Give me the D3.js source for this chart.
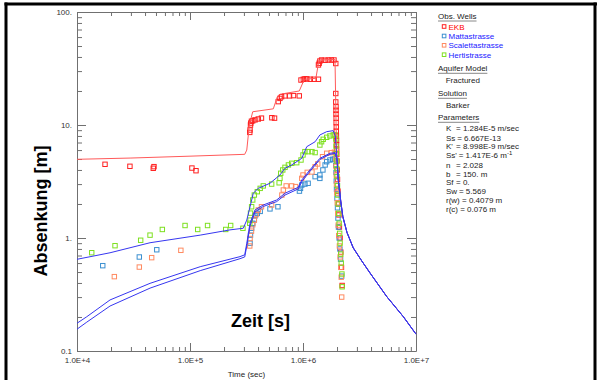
<!DOCTYPE html>
<html><head><meta charset="utf-8">
<script src="https://cdn.jsdelivr.net/npm/d3@7"></script>
<style>
html,body{margin:0;padding:0;background:#fff;}
svg{display:block;font-family:"Liberation Sans",Arial,sans-serif;}
</style></head><body>
<svg id="c" width="603" height="380"></svg>
<script>
// ---------- data ----------
const xTickValues = [1e4, 1e5, 1e6, 1e7];
const xTickLabels = ["1.0E+4", "1.0E+5", "1.0E+6", "1.0E+7"];
const yTickValues = [0.1, 1, 10, 100];
const yTickLabels = ["0.1", "1.", "10.", "100."];

const wellNames = ["EKB", "Mattastrasse", "Scalettastrasse", "Hertistrasse"];

// observed drawdown [time s, drawdown m]
const obsEKB = [[1.77e4,4.49],[2.94e4,4.31],[4.80e4,4.28],[4.73e4,4.14],[1.04e5,4.16],[1.13e5,3.94],
 [3.38e5,8.6],[3.40e5,9.03],[3.43e5,10.0],[3.45e5,10.4],[3.5e5,10.8],[3.59e5,10.9],[3.76e5,11.1],[4.02e5,11.3],[4.29e5,11.5],[5.3e5,11.6],[5.6e5,11.5],
 [6.04e5,16.1],[6.25e5,17.2],[6.46e5,17.8],[6.93e5,18.1],[7.6e5,18.1],[8.24e5,18.2],[9.27e5,18.1],
 [9.6e5,25.0],[1.007e6,25.4],[1.04e6,25.6],[1.08e6,25.6],[1.16e6,25.4],[1.25e6,25.4],[1.37e6,25.4],
 [1.37e6,34],[1.39e6,35.2],[1.41e6,36.8],[1.46e6,37.6],[1.57e6,37.4],[1.67e6,37.6],[1.78e6,37.6],[1.88e6,37.6],[1.95e6,35],
 [1.95e6,19],[1.95e6,16],[1.96e6,14.5],[1.96e6,13.5],[1.96e6,12.5],[1.965e6,11.5],[1.965e6,10.5],[1.97e6,9.6],[1.97e6,8.8],[1.975e6,8],[1.98e6,7.3],[1.98e6,6.7],[1.985e6,6.1],[1.99e6,5.5],[2.0e6,4.8],[2.01e6,4.0],[2.02e6,3.3],[2.04e6,2.6],[2.06e6,2.0],[2.08e6,1.6],[2.1e6,1.25],[2.13e6,1.0],[2.16e6,0.75],[2.19e6,0.55],[2.22e6,0.38]];
const obsMatta = [[1.69e4,0.569],[3.56e4,0.679],[5.08e4,0.787],
 [3.40e5,0.9],[3.43e5,1.06],[3.51e5,1.22],[3.59e5,1.35],[3.71e5,1.45],[3.76e5,1.57],[3.94e5,1.65],[4.18e5,1.72],[5.1e5,1.81],[6.0e5,1.89],
 [9.3e5,2.6],[9.5e5,2.75],[9.75e5,2.94],[1.04e6,3.0],[1.11e6,3.05],[1.28e6,3.49],[1.41e6,3.61],[1.41e6,3.37],[1.5e6,4.0],[1.57e6,4.43],[1.62e6,4.73],[1.73e6,4.9],[1.83e6,4.97],[1.9e6,5.0],
 [1.95e6,4.4],[1.96e6,3.8],[1.97e6,3.2],[1.98e6,2.7],[2.0e6,2.25],[2.02e6,1.85],[2.04e6,1.5],[2.06e6,1.25],[2.09e6,1.0],[2.12e6,0.8],[2.15e6,0.65],[2.2e6,0.46]];
const obsScal = [[2.14e4,0.455],[3.56e4,0.553],[4.58e4,0.670],[8.30e4,0.778],
 [3.38e5,0.85],[3.40e5,0.99],[3.5e5,1.15],[3.59e5,1.31],[3.71e5,1.44],[3.84e5,1.61],[4.02e5,1.77],[4.29e5,1.89],[5.28e5,1.96],
 [6.5e5,2.4],[6.7e5,2.66],[7.1e5,2.89],[7.94e5,2.89],[8.6e5,2.85],
 [9.75e5,3.37],[1.0e6,3.61],[1.09e6,3.81],[1.2e6,3.84],[1.28e6,4.27],[1.35e6,4.52],[1.49e6,5.24],[1.62e6,5.62],[1.78e6,5.69],[1.9e6,5.75],
 [1.95e6,5.0],[1.96e6,4.3],[1.97e6,3.6],[1.98e6,3.0],[1.99e6,2.5],[2.01e6,2.05],[2.03e6,1.65],[2.05e6,1.3],[2.07e6,1.05],[2.1e6,0.85],[2.13e6,0.68],[2.16e6,0.55],[2.18e6,0.45],[2.2e6,0.3]];
const obsHerti = [[1.35e4,0.741],[2.17e4,0.855],[3.66e4,0.955],[4.43e4,1.06],[5.69e4,1.19],[9.04e4,1.29],[1.17e5,1.19],[1.43e5,1.29],[2.07e5,1.19],[2.29e5,1.29],[2.94e5,1.22],
 [3.38e5,1.35],[3.40e5,1.44],[3.43e5,1.66],[3.51e5,1.89],[3.59e5,2.17],[3.71e5,2.40],[3.94e5,2.57],[4.18e5,2.75],[4.45e5,2.89],[5.28e5,3.0],
 [6.15e5,3.08],[6.25e5,3.37],[6.35e5,3.74],[6.62e5,4.0],[6.93e5,4.22],[7.43e5,4.43],[7.94e5,4.58],[8.8e5,4.64],
 [9.6e5,4.9],[1.0e6,5.43],[1.04e6,5.81],[1.11e6,5.81],[1.2e6,5.81],[1.28e6,5.7],
 [1.41e6,6.65],[1.46e6,7.11],[1.51e6,7.47],[1.62e6,7.78],[1.73e6,8.0],[1.85e6,8.16],[1.92e6,8.2],
 [1.95e6,7.5],[1.96e6,6.5],[1.97e6,5.6],[1.98e6,4.8],[1.99e6,4.1],[2.0e6,3.5],[2.02e6,2.9],[2.03e6,2.4],[2.05e6,2.0],[2.07e6,1.65],[2.09e6,1.35],[2.11e6,1.1],[2.13e6,0.9],[2.16e6,0.72],[2.18e6,0.6],[2.21e6,0.48],[2.22e6,0.37]];

// fitted curves (Barker solution)
const recovery = [[2.0e6,5.0],[2.05e6,3.3],[2.1e6,2.7],[2.16e6,2.1],[2.25e6,1.55],[2.45e6,1.12],[2.78e6,0.82],[3.3e6,0.63],[3.92e6,0.49],[5.51e6,0.303],[7.73e6,0.201],[1e7,0.141]];
const fitEKB = [[1e4,4.97],[3e4,5.1],[1e5,5.3],[3.05e5,5.5],[3.18e5,6.0],[3.35e5,10.0],[3.59e5,13.1],[5.46e5,13.9],[5.93e5,17.8],[6.25e5,18.7],[9.27e5,20.0],[1.007e6,24.2],[1.04e6,25.4],[1.30e6,25.9],[1.37e6,35.2],[1.41e6,37.6],[1.92e6,38.1],[1.94e6,20],[1.97e6,8]];
const fitHerti = [[1e4,0.648],[1.96e4,0.74],[4.43e4,0.908],[1.23e5,1.06],[2.26e5,1.18],[2.96e5,1.22],[3.18e5,1.44],[3.40e5,1.89],[3.63e5,2.49],[4.02e5,2.75],[5.10e5,3.05],[6.25e5,3.61],[6.93e5,4.14],[7.94e5,4.43],[9.75e5,5.07],[1.08e6,6.43],[1.28e6,7.11],[1.41e6,8.16],[1.62e6,8.73],[1.85e6,8.91],[1.93e6,8.0],[1.96e6,6.5]];
const fitScal = [[1e4,0.176],[1.22e4,0.201],[1.96e4,0.283],[4.43e4,0.397],[1.23e5,0.557],[2.77e5,0.684],[3.05e5,0.71],[3.18e5,0.897],[3.40e5,1.35],[3.76e5,1.77],[4.45e5,1.96],[5.85e5,2.17],[6.93e5,2.49],[9.09e5,2.81],[9.75e5,3.26],[1.15e6,4.0],[1.41e6,5.07],[1.73e6,5.62],[1.92e6,5.69]];
const fitMatta = [[1e4,0.156],[1.22e4,0.18],[1.96e4,0.25],[4.43e4,0.36],[1.23e5,0.514],[2.77e5,0.656],[3.05e5,0.68],[3.18e5,0.85],[3.40e5,1.28],[3.76e5,1.70],[4.45e5,1.90],[5.85e5,2.10],[6.93e5,2.40],[9.09e5,2.72],[9.75e5,3.15],[1.15e6,3.88],[1.41e6,4.95],[1.73e6,5.5],[1.92e6,5.6]];

const paramLabels = ["K", "Ss", "K'", "Ss'", "n", "b", "Sf", "Sw"];
const paramValues = ["= 1.284E-5 m/sec", "= 6.667E-13", "= 8.998E-9 m/sec", "= 1.417E-6 m", "= 2.028", "= 150. m", "= 0.", "= 5.569"];
const paramExtra = ["r(w) = 0.4079 m", "r(c) = 0.076 m"];

// ---------- drawing ----------
const svg = d3.select("#c");
const L = 77, R = 416, T = 12, B = 351;
const x = d3.scaleLog().domain([1e4, 1e7]).range([L, R]);
const y = d3.scaleLog().domain([0.1, 100]).range([B, T]);

// outer black frame
svg.append("line").attr("x1",4.5).attr("x2",597).attr("y1",4).attr("y2",4).attr("stroke","#000").attr("stroke-width",3);
svg.append("line").attr("x1",6).attr("x2",6).attr("y1",2.5).attr("y2",380).attr("stroke","#000").attr("stroke-width",3);
svg.append("line").attr("x1",595).attr("x2",595).attr("y1",2.5).attr("y2",380).attr("stroke","#000").attr("stroke-width",3);

const minorX = [];
for (let d = 4; d < 7; d++) for (let k = 1; k < 10; k++) minorX.push(k * Math.pow(10, d));
minorX.push(1e7);
const minorY = [];
for (let d = -1; d < 2; d++) for (let k = 1; k < 10; k++) minorY.push(k * Math.pow(10, d));
minorY.push(100);
const isMajor = v => Math.abs(Math.log10(v) - Math.round(Math.log10(v))) < 1e-9;
const axCol = "#707070";

function styleAxis(g, majorLen) {
  g.attr("font-family", null).attr("font-size", null);
  g.select(".domain").attr("stroke", axCol);
  g.selectAll(".tick line").attr("stroke", axCol);
  g.selectAll(".tick text").attr("fill", "#333").style("font-size", "8px");
  g.selectAll(".tick").filter(d => isMajor(d)).select("line").each(function() {
    const l = d3.select(this);
    if (l.attr("y2") !== null && +l.attr("y2") !== 0) l.attr("y2", Math.sign(+l.attr("y2")) * majorLen);
    if (l.attr("x2") !== null && +l.attr("x2") !== 0) l.attr("x2", Math.sign(+l.attr("x2")) * majorLen);
  });
}

const gx = svg.append("g").attr("transform", `translate(0,${B})`)
  .call(d3.axisBottom(x).tickValues(minorX).tickSize(-4).tickSizeOuter(0).tickPadding(6)
    .tickFormat(d => { const i = xTickValues.findIndex(v => Math.abs(v - d) / v < 1e-9); return i >= 0 ? xTickLabels[i] : ""; }));
styleAxis(gx, 8);
const gt = svg.append("g").attr("transform", `translate(0,${T})`)
  .call(d3.axisTop(x).tickValues(minorX).tickSize(-4).tickSizeOuter(0).tickFormat(""));
styleAxis(gt, 8);
const gy = svg.append("g").attr("transform", `translate(${L},0)`)
  .call(d3.axisLeft(y).tickValues(minorY).tickSize(-5).tickSizeOuter(0).tickPadding(5)
    .tickFormat(d => { const i = yTickValues.findIndex(v => Math.abs(v - d) / v < 1e-9); return i >= 0 ? yTickLabels[i] : ""; }));
styleAxis(gy, 9);
const gr = svg.append("g").attr("transform", `translate(${R},0)`)
  .call(d3.axisRight(y).tickValues(minorY).tickSize(-5).tickSizeOuter(0).tickFormat(""));
styleAxis(gr, 9);

// observations
const obsColors = ["#ff2020", "#3a8fd0", "#ff8a60", "#7ee020"];
const obsSets = [obsEKB, obsMatta, obsScal, obsHerti];
const sq = 4.4;
obsSets.forEach((set, i) => {
  svg.append("g").selectAll("rect").data(set).join("rect")
    .attr("x", d => x(d[0]) - sq / 2).attr("y", d => y(d[1]) - sq / 2)
    .attr("width", sq).attr("height", sq)
    .attr("fill", "none").attr("stroke", obsColors[i]).attr("stroke-width", 1);
});

// fitted lines
const line = d3.line().x(d => x(d[0])).y(d => y(d[1]));
const blue = "#3636f0";
svg.append("path").attr("d", line(fitEKB.concat(recovery))).attr("fill","none").attr("stroke","#ff5a5a").attr("stroke-width",1);
[fitMatta, fitScal, fitHerti].forEach(f => {
  svg.append("path").attr("d", line(f.concat(recovery))).attr("fill","none").attr("stroke",blue).attr("stroke-width",1);
});

// axis titles
svg.append("text").attr("x", (L + R) / 2).attr("y", 377).attr("text-anchor","middle")
  .style("font-size","8px").attr("fill","#222").text("Time (sec)");
svg.append("text").attr("x", 231).attr("y", 326.5)
  .style("font-size","18px").style("font-weight","bold").attr("fill","#000").text("Zeit [s]");
svg.append("text").attr("transform","translate(47,211) rotate(-90)").attr("text-anchor","middle")
  .style("font-size","18px").style("font-weight","bold").attr("fill","#000").text("Absenkung [m]");

// legend
const lg = svg.append("g").style("font-size","8px");
function header(txt, yb) {
  const t = lg.append("text").attr("x", 438).attr("y", yb).attr("fill","#222").text(txt);
  const w = t.node().getComputedTextLength();
  lg.append("line").attr("x1",438).attr("x2",438 + w).attr("y1",yb + 2).attr("y2",yb + 2).attr("stroke","#888").attr("stroke-width",1);
}
header("Obs. Wells", 19);
const itemY = [29.5, 39, 48.3, 57.7];
wellNames.forEach((n, i) => {
  lg.append("rect").attr("x", 442.3).attr("y", itemY[i] - 4.8).attr("width", 3.6).attr("height", 3.6)
    .attr("fill","none").attr("stroke", obsColors[i]).attr("stroke-width", 1);
  lg.append("text").attr("x", 448.5).attr("y", itemY[i]).attr("fill", i === 0 ? "#ff0000" : "#1a1aff").text(n);
});
header("Aquifer Model", 71.3);
lg.append("text").attr("x", 445.7).attr("y", 83).attr("fill","#222").text("Fractured");
header("Solution", 96.3);
lg.append("text").attr("x", 446).attr("y", 108).attr("fill","#222").text("Barker");
header("Parameters", 120.3);
const pY = [131.3, 140.5, 149.3, 158.3, 167.7, 176.6, 185.3, 194.3];
paramLabels.forEach((p, i) => {
  const lab = lg.append("text").attr("x", 446).attr("y", pY[i]).attr("fill","#222").text(p);
  const w = lab.node().getComputedTextLength();
  const vx = Math.max(456, 446 + w + 1.8);
  const t = lg.append("text").attr("x", vx).attr("y", pY[i]).attr("fill","#222").text(paramValues[i]);
  if (p === "Ss'") t.append("tspan").attr("dy", -3).style("font-size","6px").text("-1");
});
paramExtra.forEach((p, i) => {
  lg.append("text").attr("x", 446).attr("y", 203.3 + i * 8.8).attr("fill","#222").text(p);
});
</script>
</body></html>
